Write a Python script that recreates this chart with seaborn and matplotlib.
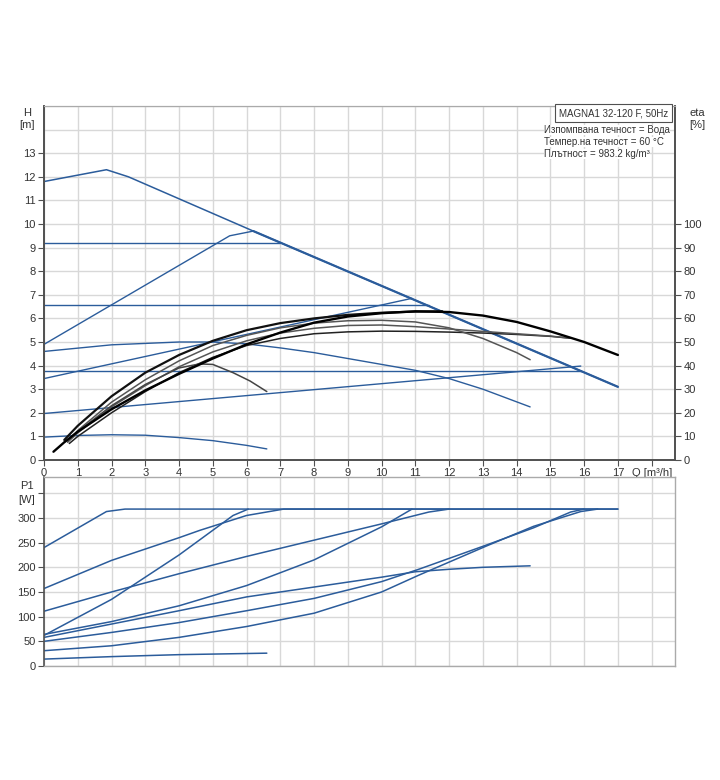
import matplotlib
matplotlib.use("Agg")
import matplotlib.pyplot as plt
import seaborn as sns
import numpy as np
import pandas as pd

# ---------------- data ----------------
# H-Q curves (Q m3/h, H m)
h_max_q = [0, 1.85, 2.5, 6.2, 17]
h_max_h = [11.8, 12.3, 12.0, 9.7, 3.1]
h_max2_q = [6.2, 17]
h_max2_h = [9.7, 3.1]
h_cp1_q = [0, 7.0]
h_cp1_h = [9.2, 9.2]
h_pp1_q = [0, 5.5, 6.2]
h_pp1_h = [4.9, 9.5, 9.7]
h_cp2_q = [0, 11.4]
h_cp2_h = [6.55, 6.55]
h_pp2_q = [0, 10.9]
h_pp2_h = [3.45, 6.85]
h_mid_q = [0, 2, 4, 5, 6, 7, 8, 9, 10, 11, 12, 13, 14.4]
h_mid_h = [4.6, 4.88, 5.0, 5.0, 4.92, 4.75, 4.55, 4.3, 4.05, 3.8, 3.45, 3.0, 2.25]
h_cp3_q = [0, 15.9]
h_cp3_h = [3.78, 3.78]
h_pp3_q = [0, 15.9]
h_pp3_h = [1.97, 3.98]
h_min_q = [0, 1, 2, 3, 4, 5, 6, 6.6]
h_min_h = [0.97, 1.04, 1.07, 1.05, 0.95, 0.82, 0.62, 0.47]

# efficiency curves (Q m3/h, eta %)
e1_q = [0.28, 0.6, 1, 2, 3, 4, 5, 6, 7, 8, 9, 10, 11, 12, 13, 14, 15, 16, 17]
e1_v = [3.5, 7.5, 12.0, 21.5, 29.5, 36.5, 43.0, 49.0, 54.0, 58.2, 60.8, 62.2, 63.0, 62.7, 61.2, 58.5, 54.5, 50.0, 44.5]
e2_q = [0.6, 1, 2, 3, 4, 5, 6, 7, 8, 9, 10, 11, 11.8]
e2_v = [8.5, 14.5, 27.0, 37.0, 44.5, 50.5, 55.0, 58.0, 60.0, 61.5, 62.4, 62.9, 63.0]
e3_q = [0.7, 1, 2, 3, 4, 5, 6, 7, 8, 9, 10, 11, 12, 13, 14, 14.4]
e3_v = [8.0, 12.5, 24.5, 34.0, 42.0, 48.5, 52.8, 56.0, 58.0, 59.0, 59.2, 58.5, 56.0, 51.5, 45.5, 42.5]
e4_q = [0.7, 1, 2, 3, 4, 5, 6, 7, 8, 9, 10, 11, 12, 13, 14, 15, 15.6]
e4_v = [7.5, 11.5, 22.5, 31.5, 39.5, 45.8, 50.5, 53.8, 55.8, 57.0, 57.2, 56.5, 55.5, 54.5, 53.5, 52.5, 51.6]
e5_q = [0.75, 1, 2, 3, 4, 5, 6, 7, 8, 9, 10, 11, 12, 13, 14, 15, 15.6]
e5_v = [7.0, 10.0, 20.0, 29.0, 37.0, 43.5, 48.5, 51.5, 53.5, 54.3, 54.6, 54.5, 54.2, 53.8, 53.2, 52.4, 51.6]
e6_q = [0.6, 1, 2, 3, 4, 4.6, 5.0, 5.6, 6.1, 6.6]
e6_v = [7.5, 12.0, 23.0, 32.0, 39.0, 40.7, 40.5, 37.0, 33.5, 29.0]

# P1-Q curves (Q m3/h, P1 W)
p1_q = [0, 1.85, 2.4, 17]
p1_v = [240, 313, 318, 318]
p2_q = [0, 2, 4, 4.62, 6, 7.1, 17]
p2_v = [157, 214, 260, 275, 305, 318, 318]
p3_q = [0, 2, 4, 5, 5.6, 6.05]
p3_v = [62, 135, 225, 275, 305, 318]
p4_q = [0, 2, 4, 6, 8, 10, 11.4, 12.0]
p4_v = [111, 150, 187, 222, 255, 288, 312, 318]
p5_q = [0, 2, 4, 6, 8, 10, 10.9]
p5_v = [64, 90, 122, 163, 215, 282, 318]
p6_q = [0, 2, 4, 6, 8, 10, 11, 12, 13, 14.4]
p6_v = [58, 85, 112, 140, 160, 180, 191, 196, 200, 203]
p7_q = [0, 2, 4, 6, 8, 10, 11.1, 13.1, 14.5, 15.6, 16.0]
p7_v = [50, 68, 88, 112, 137, 171, 196, 245, 280, 312, 318]
p8_q = [0, 2, 4, 6, 8, 10, 11.1, 13.1, 14.5, 15.9, 16.4]
p8_v = [31, 41, 58, 80, 107, 150, 184, 243, 283, 313, 318]
p9_q = [0, 2, 4, 6.6]
p9_v = [14, 19, 23, 26]

x_ticks = list(range(0, 19))
x_labels = [str(i) for i in range(0, 18)] + ["Q [m³/h]"]
h_ticks = list(range(0, 14))
eta_ticks = list(range(0, 101, 10))
p_ticks = list(range(0, 351, 50))
p_labels = [str(v) for v in range(0, 301, 50)] + [""]

title_text = "MAGNA1 32-120 F, 50Hz"
info_lines = ["Изпомпвана течност = Вода",
              "Темпер.на течност = 60 °C",
              "Плътност = 983.2 kg/m³"]

# ---------------- style ----------------
sns.set_theme(style="white")
plt.rcParams['font.family'] = ['Liberation Sans', 'DejaVu Sans']
plt.rcParams['font.size'] = 8

BLUE = "#2b5c9b"
GRID = "#d8d8d8"
DARK = "#505050"
TXT = "#333333"

fig = plt.figure(figsize=(7.2, 7.8), dpi=100)
ax = fig.add_axes([44/720, 1-460/780, 631/720, 354/780])
axe = ax.twinx()
axp = fig.add_axes([44/720, 1-666/780, 631/720, 189/780])

XMAX = 631/33.76

def line(a, q, v, color=BLUE, lw=1.0, alpha=1.0):
    df = pd.DataFrame({"Q": q, "V": v})
    sns.lineplot(data=df, x="Q", y="V", ax=a, color=color, lw=lw,
                 sort=False, estimator=None, alpha=alpha, legend=False)

# grid
for a in (ax, axp):
    a.set_xlim(0, XMAX)
    a.set_axisbelow(True)
ax.set_ylim(0, 15)
axe.set_ylim(0, 150)
axp.set_ylim(0, 383)
ax.set_xticks(np.arange(0, 19, 1))
ax.set_yticks(np.arange(0, 16, 1))
ax.grid(True, color=GRID, lw=1.0)
axp.set_xticks(np.arange(0, 19, 1))
axp.set_yticks(p_ticks)
axp.grid(True, color=GRID, lw=1.0)

# H curves
line(ax, h_max_q, h_max_h, lw=1.1)
line(ax, h_max2_q, h_max2_h, lw=1.6)
line(ax, h_cp1_q, h_cp1_h)
line(ax, h_pp1_q, h_pp1_h)
line(ax, h_cp2_q, h_cp2_h)
line(ax, h_pp2_q, h_pp2_h)
line(ax, h_mid_q, h_mid_h)
line(ax, h_cp3_q, h_cp3_h)
line(ax, h_pp3_q, h_pp3_h)
line(ax, h_min_q, h_min_h)

# eta curves
line(axe, e5_q, e5_v, color="#222222", lw=1.1)
line(axe, e4_q, e4_v, color="#555555", lw=1.1)
line(axe, e3_q, e3_v, color="#555555", lw=1.1)
line(axe, e6_q, e6_v, color="#444444", lw=1.1)
line(axe, e2_q, e2_v, color="#111111", lw=1.6)
line(axe, e1_q, e1_v, color="#000000", lw=1.7)

# P1 curves
for q, v in [(p1_q, p1_v), (p2_q, p2_v), (p3_q, p3_v), (p4_q, p4_v),
             (p5_q, p5_v), (p6_q, p6_v), (p7_q, p7_v), (p8_q, p8_v),
             (p9_q, p9_v)]:
    line(axp, q, v, lw=1.1)

# ticks & labels
ax.set_xticks(x_ticks)
ax.set_xticklabels(x_labels)
ax.set_yticks(np.arange(0, 16, 1))
ax.set_yticklabels([str(i) if i in h_ticks else "" for i in range(16)])
axe.set_yticks(eta_ticks)
axe.set_yticklabels([str(v) for v in eta_ticks])
axp.set_yticklabels(p_labels)
axp.set_xticklabels([])
for a in (ax, axe, axp):
    a.set_xlabel("")
    a.set_ylabel("")

ax.tick_params(axis='both', colors=DARK, labelcolor=TXT, labelsize=8,
               length=4, width=0.8, direction='out', pad=2)
ax.tick_params(axis='y', left=True, right=False)
ax.tick_params(axis='x', bottom=True)
for t in ax.yaxis.get_major_ticks()[14:]:
    t.tick1line.set_visible(False)
axe.tick_params(axis='y', colors=DARK, labelcolor=TXT, labelsize=8,
                length=4, width=0.8, direction='out', pad=2, right=True)
axp.tick_params(axis='y', colors=DARK, labelcolor=TXT, labelsize=8,
                length=4, width=0.8, direction='out', pad=2, left=True)
axp.tick_params(axis='x', bottom=False)

for a in (ax, axe):
    for s in a.spines.values():
        s.set_color(DARK)
        s.set_linewidth(1.2)
    a.spines['top'].set_color("#aaaaaa")
    a.spines['top'].set_linewidth(0.8)
for name, s in axp.spines.items():
    s.set_color("#aaaaaa")
    s.set_linewidth(1.0)
axp.spines['left'].set_color(DARK)
axp.spines['left'].set_linewidth(1.2)

# axis titles
fig.text(27/720, 1-113/780, "H", ha='center', va='center', fontsize=8, color=TXT)
fig.text(27/720, 1-125/780, "[m]", ha='center', va='center', fontsize=8, color=TXT)
fig.text(697/720, 1-113/780, "eta", ha='center', va='center', fontsize=8, color=TXT)
fig.text(697/720, 1-125/780, "[%]", ha='center', va='center', fontsize=8, color=TXT)
fig.text(27/720, 1-486/780, "P1", ha='center', va='center', fontsize=8, color=TXT)
fig.text(27/720, 1-500/780, "[W]", ha='center', va='center', fontsize=8, color=TXT)

# title box & info
fig.text(668/720, 1-113/780, title_text, ha='right', va='center', fontsize=7.0,
         color=TXT, bbox=dict(boxstyle='square,pad=0.4', fc='white', ec=DARK, lw=0.8))
for i, s in enumerate(info_lines):
    fig.text(544/720, 1-(130+12*i)/780, s, ha='left', va='center', fontsize=7.0,
             color=TXT, bbox=dict(boxstyle='square,pad=0.05', fc='white', ec='none'))

fig.savefig("out.png", dpi=100)
